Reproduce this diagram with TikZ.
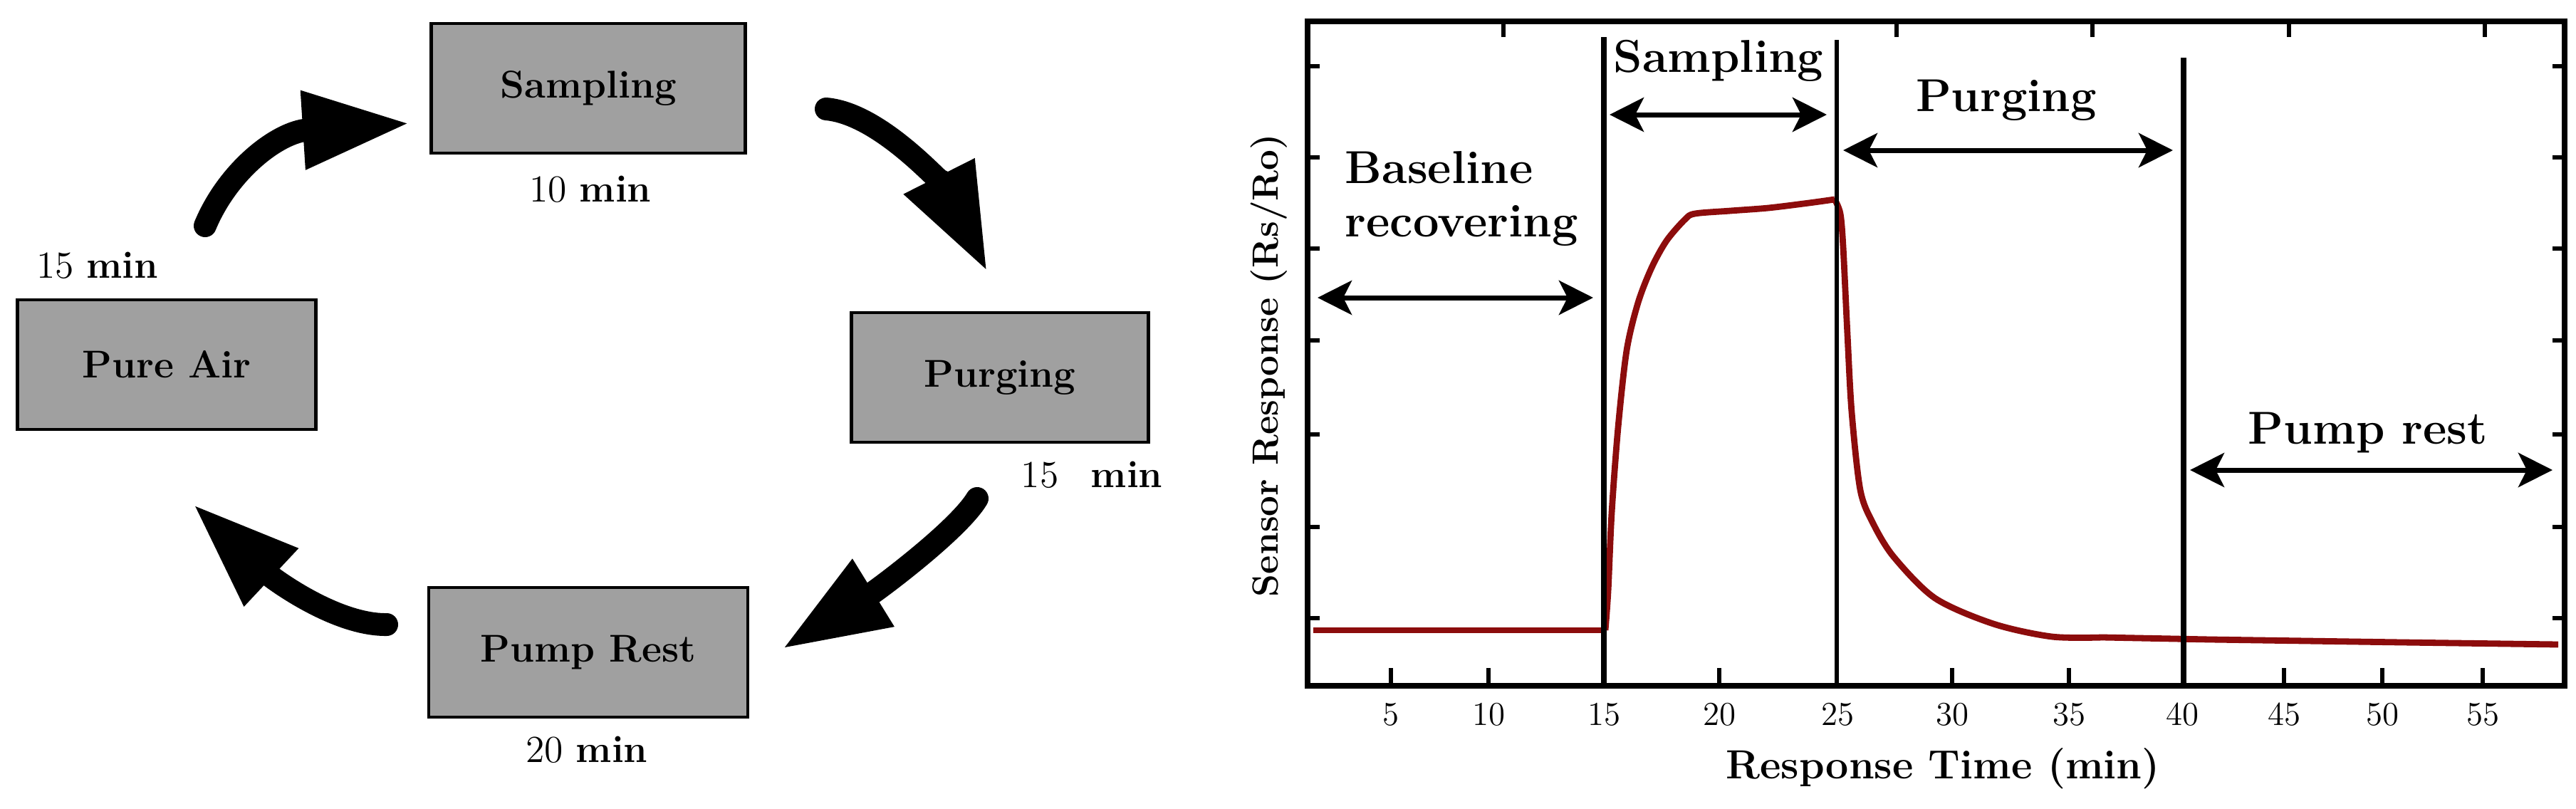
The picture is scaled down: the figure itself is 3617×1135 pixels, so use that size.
\documentclass[tikz,border=0pt]{standalone}
\usetikzlibrary{arrows.meta}
\definecolor{boxgray}{RGB}{160,160,160}
\definecolor{curvered}{RGB}{140,12,12}
\begin{document}
\begin{tikzpicture}[x=0.25pt,y=-0.25pt,
  phase/.style={draw=black, line width=1.2pt, fill=boxgray, inner sep=0pt, outer sep=0pt,
    minimum height=45.5pt, font=\fontsize{13.6pt}{16pt}\selectfont\bfseries},
  tlabel/.style={inner sep=0pt, font=\fontsize{13.4pt}{16pt}\selectfont},
  cyc/.style={line width=8pt, line cap=round, -{Triangle[length=38pt,width=25.5pt]}},
  frame/.style={line width=1.8pt},
  tick/.style={line width=1.5pt},
  vline/.style={line width=1.8pt},
  clbl/.style={inner sep=0pt, font=\fontsize{16.2pt}{19pt}\selectfont\bfseries},
  ticklbl/.style={inner sep=0pt, anchor=base, font=\fontsize{11.75pt}{14pt}\selectfont},
  dbl/.style={line width=1.75pt, {Stealth[length=12pt,width=12pt,inset=3pt]}-{Stealth[length=12pt,width=12pt,inset=3pt]}},
  resp/.style={line width=2.2pt, curvered, line join=round}
]
\useasboundingbox (0,0) rectangle (3617,1135);

% ---------------- left: cycle diagram ----------------
\node[phase, minimum width=110.25pt] (samp) at (826,124) {Sampling};
\node[phase, minimum width=104.75pt] (air)  at (234,512) {Pure Air};
\node[phase, minimum width=104.25pt] (purg) at (1404,530) {Purging};
\node[phase, minimum width=112pt]    (pump) at (826,916) {Pump Rest};

\node[tlabel] (t1) at (829,266) {10 \textbf{min}};
\node[tlabel] (t2) at (137,373) {15 \textbf{min}};
\node[tlabel, anchor=west] (t3) at (1433,667) {15\hspace{0.85em}\textbf{min}};
\node[tlabel] (t4) at (824,1053) {20 \textbf{min}};

\coordinate (a1s) at (288,317);  \coordinate (a1e) at (577,173);
\coordinate (a2s) at (1160,153); \coordinate (a2e) at (1387,383);
\coordinate (a3s) at (1372,700); \coordinate (a3e) at (1097,912);
\coordinate (a4s) at (543,877);  \coordinate (a4e) at (270,707);

\draw[cyc] (a1s) .. controls (320,240) and (390,185) .. (a1e);
\draw[cyc] (a2s) .. controls (1240,160) and (1330,270) .. (a2e);
\draw[cyc] (a3s) .. controls (1345,745) and (1230,830) .. (a3e);
\draw[cyc] (a4s) .. controls (470,878) and (380,810) .. (a4e);

% ---------------- right: response chart ----------------
\draw[frame] (1836,30) rectangle (3601,963);
\foreach \yy in {93,221,349,478,610,740,868} {
  \draw[tick] (1836,\yy) -- (1853,\yy);
  \draw[tick] (3601,\yy) -- (3584,\yy);
}
\foreach \xx in {1953,2090,2414,2741,2905,3207,3345,3486} {
  \draw[tick] (\xx,963) -- (\xx,938);
}
\foreach \xx in {2111,2663,2938,3214,3489} {
  \draw[tick] (\xx,30) -- (\xx,52);
}
\foreach \xx/\lab in {1953/5,2090/10,2252/15,2414/20,2580/25,2741/30,2905/35,3064/40,3207/45,3345/50,3486/55} {
  \node[ticklbl] at (\xx,1018) {\lab};
}

\node[inner sep=0pt, rotate=90, font=\fontsize{12.8pt}{15pt}\selectfont\bfseries] (ylab) at (1782,513) {Sensor Response (Rs/Ro)};
\node[inner sep=0pt, anchor=base, font=\fontsize{14.3pt}{17pt}\selectfont\bfseries] (xlab) at (2728,1093) {Response Time (min)};

% response curve
\draw[resp] (1844,885) -- (2254,885);
\draw[resp] plot[smooth, tension=0.5] coordinates {
  (2254,885) (2258,830) (2263,720) (2272,600) (2284,492) (2300,425) (2319,376)
  (2340,338) (2366,308) (2380,300) (2430,296) (2483,292) (2540,285) (2576,280)};
\draw[resp] plot[smooth, tension=0.5] coordinates {
  (2576,280) (2584,300) (2588,347) (2594,470) (2600,579) (2612,688) (2630,735)
  (2659,782) (2717,840) (2799,876) (2881,894) (2952,895)};
\draw[resp] (2952,895) -- (3104,898) -- (3373,902) -- (3592,905);

% phase boundaries
\draw[vline] (2252,52) -- (2252,963);
\draw[line width=1.4pt] (2579,56) -- (2579,963);
\draw[vline] (3066,81) -- (3066,963);

% annotations
\node[clbl, anchor=base] (lsamp) at (2413,101) {Sampling};
\node[clbl, anchor=base] (lpurg) at (2817,156) {Purging};
\node[clbl, anchor=base west] (lbase1) at (1888,257) {Baseline};
\node[clbl, anchor=base west] (lbase2) at (1888,332) {recovering};
\node[clbl, anchor=base] (lpump) at (3325,623) {Pump rest};

\coordinate (s1) at (2260,161); \coordinate (s2) at (2565,161);
\coordinate (p1) at (2588,211); \coordinate (p2) at (3051,211);
\coordinate (b1) at (1850,418); \coordinate (b2) at (2237,418);
\coordinate (r1) at (3075,660); \coordinate (r2) at (3584,660);
\draw[dbl] (s1) -- (s2);
\draw[dbl] (p1) -- (p2);
\draw[dbl] (b1) -- (b2);
\draw[dbl] (r1) -- (r2);
\end{tikzpicture}
\end{document}
